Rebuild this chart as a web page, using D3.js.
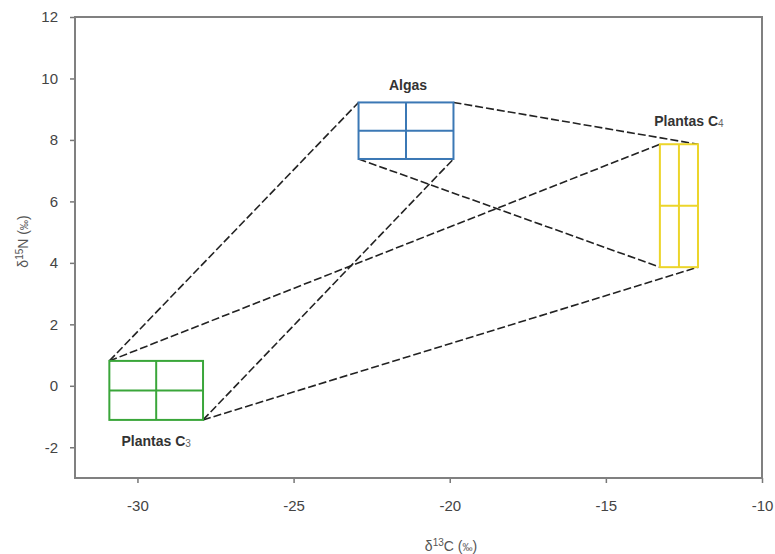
<!DOCTYPE html>
<html>
<head>
<meta charset="utf-8">
<script src="https://cdn.jsdelivr.net/npm/d3@7"></script>
<style>
  body { margin: 0; background: #fff; }
  text { font-family: "Liberation Sans", Arial, sans-serif; }
</style>
</head>
<body>
<script>
const width = 775;
const height = 554;

// source groups: mean +/- sd of d13C and d15N
const sources = ["Plantas C3", "Algas", "Plantas C4"];
const meanC = [-29.4, -21.4, -12.66];
const sdC = [1.5, 1.52, 0.61];
const meanN = [-0.15, 8.3, 5.86];
const sdN = [0.96, 0.92, 2.0];
const colours = ["#3aa63a", "#3b78b5", "#ecd52a"];

const xTicks = [-30, -25, -20, -15, -10];
const yTicks = [-2, 0, 2, 4, 6, 8, 10, 12];

// mixing polygon links: [source, corner, source, corner]
// corner: tl, tr, bl, br
const links = [
    [0, "tl", 1, "tl"],
    [0, "tl", 2, "tl"],
    [0, "br", 1, "br"],
    [0, "br", 2, "br"],
    [1, "tr", 2, "tr"],
    [1, "bl", 2, "bl"],
];

const margin = { top: 17, right: 13, bottom: 76, left: 75 };

const x = d3.scaleLinear().domain([-32, -10]).range([margin.left, width - margin.right]);
const y = d3.scaleLinear().domain([-3, 12]).range([height - margin.bottom, margin.top]);

const svg = d3.select("body").append("svg")
    .attr("width", width)
    .attr("height", height);

// axes (plain hyphen minus like the original)
const fmt = (d) => String(d);
const xAxis = svg.append("g")
    .attr("transform", `translate(0,${height - margin.bottom})`)
    .call(d3.axisBottom(x).tickValues(xTicks).tickSize(5).tickPadding(17).tickFormat(fmt));
const yAxis = svg.append("g")
    .attr("transform", `translate(${margin.left},0)`)
    .call(d3.axisLeft(y).tickValues(yTicks).tickSize(5).tickPadding(12).tickFormat(fmt));

[xAxis, yAxis].forEach((g) => {
    g.select(".domain").remove();
    g.selectAll("line").attr("stroke", "#777").attr("stroke-width", 1.5);
    g.selectAll("text").attr("fill", "#444").style("font-size", "15px");
});

// frame
svg.append("rect")
    .attr("x", x(-32))
    .attr("y", y(12))
    .attr("width", x(-10) - x(-32))
    .attr("height", y(-3) - y(12))
    .attr("fill", "none")
    .attr("stroke", "#808080")
    .attr("stroke-width", 2);

// corner position of a source box
function corner(i, c) {
    const cx = c[1] == "l" ? meanC[i] - sdC[i] : meanC[i] + sdC[i];
    const cy = c[0] == "t" ? meanN[i] + sdN[i] : meanN[i] - sdN[i];
    return [x(cx), y(cy)];
}

// dashed links
svg.append("g")
    .selectAll("line")
    .data(links)
    .join("line")
    .attr("x1", (d) => corner(d[0], d[1])[0])
    .attr("y1", (d) => corner(d[0], d[1])[1])
    .attr("x2", (d) => corner(d[2], d[3])[0])
    .attr("y2", (d) => corner(d[2], d[3])[1])
    .attr("stroke", "#222")
    .attr("stroke-width", 1.6)
    .attr("stroke-dasharray", "8,3");

// source boxes with cross at the mean
const boxes = svg.append("g")
    .selectAll("g")
    .data(sources.map((s, i) => i))
    .join("g")
    .attr("stroke", (i) => colours[i])
    .attr("stroke-width", 2)
    .attr("fill", "none");

boxes.append("rect")
    .attr("x", (i) => x(meanC[i] - sdC[i]))
    .attr("y", (i) => y(meanN[i] + sdN[i]))
    .attr("width", (i) => x(meanC[i] + sdC[i]) - x(meanC[i] - sdC[i]))
    .attr("height", (i) => y(meanN[i] - sdN[i]) - y(meanN[i] + sdN[i]));

boxes.append("line")
    .attr("x1", (i) => x(meanC[i] - sdC[i]))
    .attr("x2", (i) => x(meanC[i] + sdC[i]))
    .attr("y1", (i) => y(meanN[i]))
    .attr("y2", (i) => y(meanN[i]));

boxes.append("line")
    .attr("x1", (i) => x(meanC[i]))
    .attr("x2", (i) => x(meanC[i]))
    .attr("y1", (i) => y(meanN[i] + sdN[i]))
    .attr("y2", (i) => y(meanN[i] - sdN[i]));

// source labels
function label(i, px, py) {
    const t = svg.append("text")
        .attr("x", px)
        .attr("y", py)
        .attr("text-anchor", "middle")
        .attr("fill", "#333")
        .style("font-size", "14px")
        .style("font-weight", "bold");
    const name = sources[i];
    const m = name.match(/^(.*C)(\d)$/);
    if (m) {
        t.append("tspan").text(m[1]);
        t.append("tspan")
            .attr("dy", 1)
            .style("font-size", "10px")
            .style("font-weight", "normal")
            .attr("fill", "#666")
            .text(m[2]);
    } else {
        t.text(name);
    }
}

label(0, x(meanC[0]), y(meanN[0] - sdN[0]) + 26);
label(1, x(meanC[1]) + 2, y(meanN[1] + sdN[1]) - 12);
label(2, x(meanC[2]) + 10, y(meanN[2] + sdN[2]) - 18);

// axis titles
const xt = svg.append("text")
    .attr("x", 451)
    .attr("y", 551)
    .attr("text-anchor", "middle")
    .attr("fill", "#555")
    .style("font-size", "14px");
xt.append("tspan").text("δ");
xt.append("tspan").attr("dy", -5).style("font-size", "10px").text("13");
xt.append("tspan").attr("dy", 5).text("C (");
xt.append("tspan").style("font-size", "10px").text("‰");
xt.append("tspan").text(")");

const yt = svg.append("text")
    .attr("transform", `translate(28,${(margin.top + height - margin.bottom) / 2 - 6}) rotate(-90)`)
    .attr("text-anchor", "middle")
    .attr("fill", "#555")
    .style("font-size", "14px");
yt.append("tspan").text("δ");
yt.append("tspan").attr("dy", -5).style("font-size", "10px").text("15");
yt.append("tspan").attr("dy", 5).text("N (");
yt.append("tspan").style("font-size", "10px").text("‰");
yt.append("tspan").text(")");
</script>
</body>
</html>
